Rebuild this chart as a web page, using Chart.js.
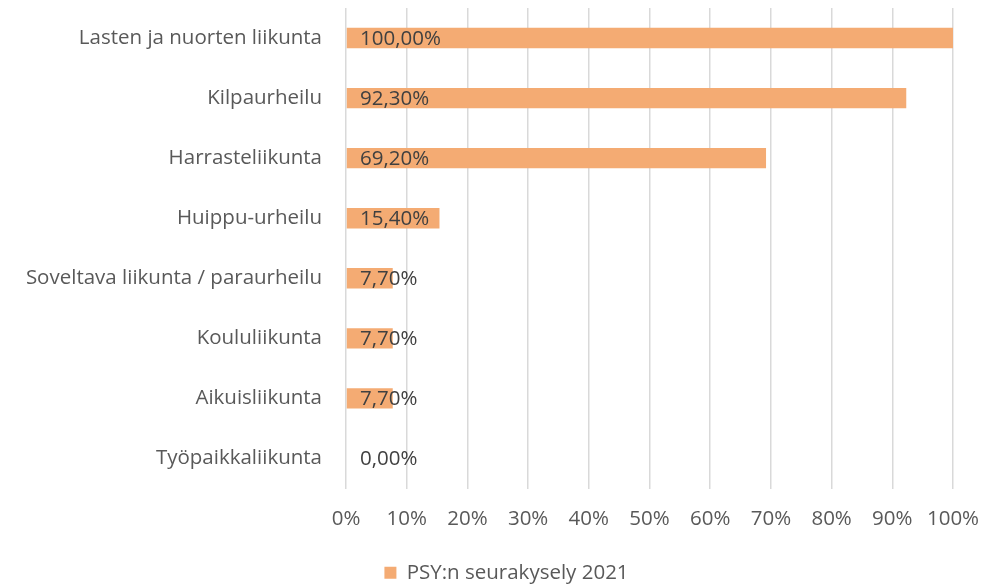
<!DOCTYPE html>
<html>
<head>
<meta charset="utf-8">
<script src="https://cdn.jsdelivr.net/npm/chart.js@4/dist/chart.umd.min.js"></script>
<style>
  html, body { margin: 0; padding: 0; background: #fff; }
  #wrap { width: 993px; height: 584px; }
</style>
</head>
<body>
<div id="wrap"><canvas id="myChart"></canvas></div>
<script>
const categories = [
  "Lasten ja nuorten liikunta",
  "Kilpaurheilu",
  "Harrasteliikunta",
  "Huippu-urheilu",
  "Soveltava liikunta / paraurheilu",
  "Koululiikunta",
  "Aikuisliikunta",
  "Työpaikkaliikunta"
];
const values = [100, 92.3, 69.2, 15.4, 7.7, 7.7, 7.7, 0];
const seriesName = "PSY:n seurakysely 2021";
const xTicks = [0, 10, 20, 30, 40, 50, 60, 70, 80, 90, 100];

const textColor = "#595959";
const labelColor = "#404040";
const barColor = "#F4AB73";
const fontFamily = "'Open Sans', sans-serif";
const fontSize = 20.5;

// labels drawn at the base of each bar, like Excel "inside base"
const baseLabels = {
  id: "baseLabels",
  afterLayout(chart) {
    // excel puts the legend a bit right of centre and lower
    chart.legend.left += 30;
    chart.legend.right += 30;
    chart.legend.top += 9;
    chart.legend.bottom += 9;
  },
  afterDatasetsDraw(chart) {
    const ctx = chart.ctx;
    const meta = chart.getDatasetMeta(0);
    const x0 = chart.scales.x.getPixelForValue(0);
    ctx.save();
    ctx.font = fontSize + "px " + fontFamily;
    ctx.fillStyle = labelColor;
    ctx.textAlign = "left";
    ctx.textBaseline = "middle";
    meta.data.forEach(function (bar, i) {
      const txt = values[i].toFixed(2).replace(".", ",") + "%";
      ctx.fillText(txt, x0 + 14, bar.y + 1);
    });
    ctx.restore();
  }
};

const ctx = document.getElementById("myChart");

new Chart(ctx, {
  type: "bar",
  data: {
    labels: categories,
    datasets: [{
      label: seriesName,
      data: values,
      backgroundColor: barColor,
      borderWidth: 0,
      categoryPercentage: 1,
      barPercentage: 0.34
    }]
  },
  options: {
    indexAxis: "y",
    responsive: true,
    maintainAspectRatio: false,
    animation: false,
    layout: { padding: { top: 8, right: 40, left: 0, bottom: 0 } },
    scales: {
      x: {
        min: 0,
        max: 100,
        afterBuildTicks(scale) {
          scale.ticks = xTicks.map(v => ({ value: v }));
        },
        afterFit(scale) {
          scale.height = 57;
          scale.paddingLeft = 0;
          scale.paddingRight = 0;
        },
        grid: { color: "#d9d9d9", lineWidth: 1.5, drawTicks: false },
        border: { display: false },
        ticks: {
          color: textColor,
          font: { family: fontFamily, size: fontSize },
          padding: 18,
          callback: v => v + "%"
        }
      },
      y: {
        afterFit(scale) {
          scale.width = 346;
          scale.paddingTop = 0;
          scale.paddingBottom = 0;
        },
        grid: { display: false, drawTicks: false },
        border: { display: false },
        ticks: {
          color: textColor,
          font: { family: fontFamily, size: fontSize },
          padding: 24
        }
      }
    },
    plugins: {
      legend: {
        position: "bottom",
        labels: {
          color: textColor,
          font: { family: fontFamily, size: fontSize },
          boxWidth: 12,
          boxHeight: 12,
          padding: 8
        }
      },
      tooltip: { enabled: false }
    }
  },
  plugins: [baseLabels]
});
</script>
</body>
</html>
